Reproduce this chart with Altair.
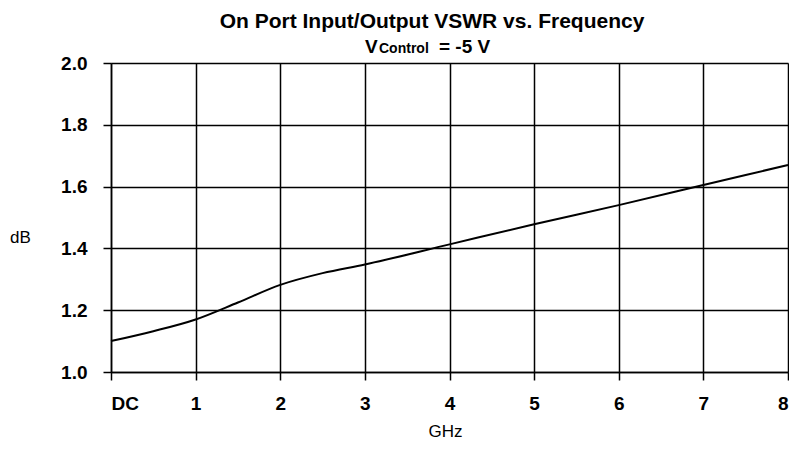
import altair as alt
import pandas as pd

# Data
freq_ghz = [0, 0.5, 1, 1.5, 2, 2.5, 3, 4, 5, 6, 7, 8]
vswr_db = [1.100, 1.132, 1.170, 1.225, 1.282, 1.320, 1.348, 1.413, 1.478, 1.540, 1.605, 1.670]
x_ticks = [0, 1, 2, 3, 4, 5, 6, 7, 8]
y_ticks = [1.0, 1.2, 1.4, 1.6, 1.8, 2.0]
title_text = "On Port Input/Output VSWR vs. Frequency"
sub_parts = ["V", "Control", "= -5 V"]

FONT = "Liberation Sans"
df = pd.DataFrame({"freq": freq_ghz, "vswr": vswr_db})

line = alt.Chart(df).mark_line(color="black", strokeWidth=2, interpolate="monotone").encode(
    x=alt.X("freq:Q",
            scale=alt.Scale(domain=[0, 8], nice=False, zero=False),
            axis=alt.Axis(values=x_ticks, title="GHz",
                          labelExpr="datum.value == 0 ? 'DC' : datum.label",
                          labelFont=FONT, labelFontSize=19, labelFontWeight="bold", labelColor="black",
                          labelPadding=14, tickSize=8, tickColor="black", tickWidth=1.5,
                          domainColor="black", domainWidth=1.5,
                          grid=True, gridColor="black", gridWidth=1.5, gridOpacity=1,
                          titleFont=FONT, titleFontSize=17, titleFontWeight="normal", titleColor="black",
                          titleX=334, titleY=64, titleBaseline="alphabetic", titleAlign="center")),
    y=alt.Y("vswr:Q",
            scale=alt.Scale(domain=[1.0, 2.0], nice=False, zero=False),
            axis=alt.Axis(values=y_ticks, format=".1f", title="dB",
                          labelFont=FONT, labelFontSize=19, labelFontWeight="bold", labelColor="black",
                          labelPadding=16, tickSize=8, tickColor="black", tickWidth=1.5,
                          domainColor="black", domainWidth=1.5,
                          grid=True, gridColor="black", gridWidth=1.5, gridOpacity=1,
                          titleFont=FONT, titleFontSize=17, titleFontWeight="normal", titleColor="black",
                          titleAngle=0, titleX=-91, titleY=174, titleAlign="center", titleBaseline="middle")),
)

title_layer = alt.Chart(pd.DataFrame({"t": [title_text]})).mark_text(
    font=FONT, fontSize=21, fontWeight="bold", color="black", align="center", baseline="alphabetic"
).encode(text="t:N", x=alt.value(321), y=alt.value(-35))

sub_v = alt.Chart(pd.DataFrame({"t": [sub_parts[0]]})).mark_text(
    font=FONT, fontSize=19, fontWeight="bold", color="black", align="left", baseline="alphabetic"
).encode(text="t:N", x=alt.value(254), y=alt.value(-10))

sub_c = alt.Chart(pd.DataFrame({"t": [sub_parts[1]]})).mark_text(
    font=FONT, fontSize=14, fontWeight="bold", color="black", align="left", baseline="alphabetic"
).encode(text="t:N", x=alt.value(268), y=alt.value(-10))

sub_rest = alt.Chart(pd.DataFrame({"t": [sub_parts[2]]})).mark_text(
    font=FONT, fontSize=19, fontWeight="bold", color="black", align="left", baseline="alphabetic"
).encode(text="t:N", x=alt.value(328), y=alt.value(-10))

chart = alt.layer(line, title_layer, sub_v, sub_c, sub_rest).properties(
    width=677, height=309,
    autosize=alt.AutoSizeParams(type="none"),
    padding={"left": 103, "top": 55, "right": 1, "bottom": 70},
).configure_view(stroke="black", strokeWidth=1.5).configure(background="white")

chart.save("out.html", embed_options={"renderer": "svg", "actions": False})
